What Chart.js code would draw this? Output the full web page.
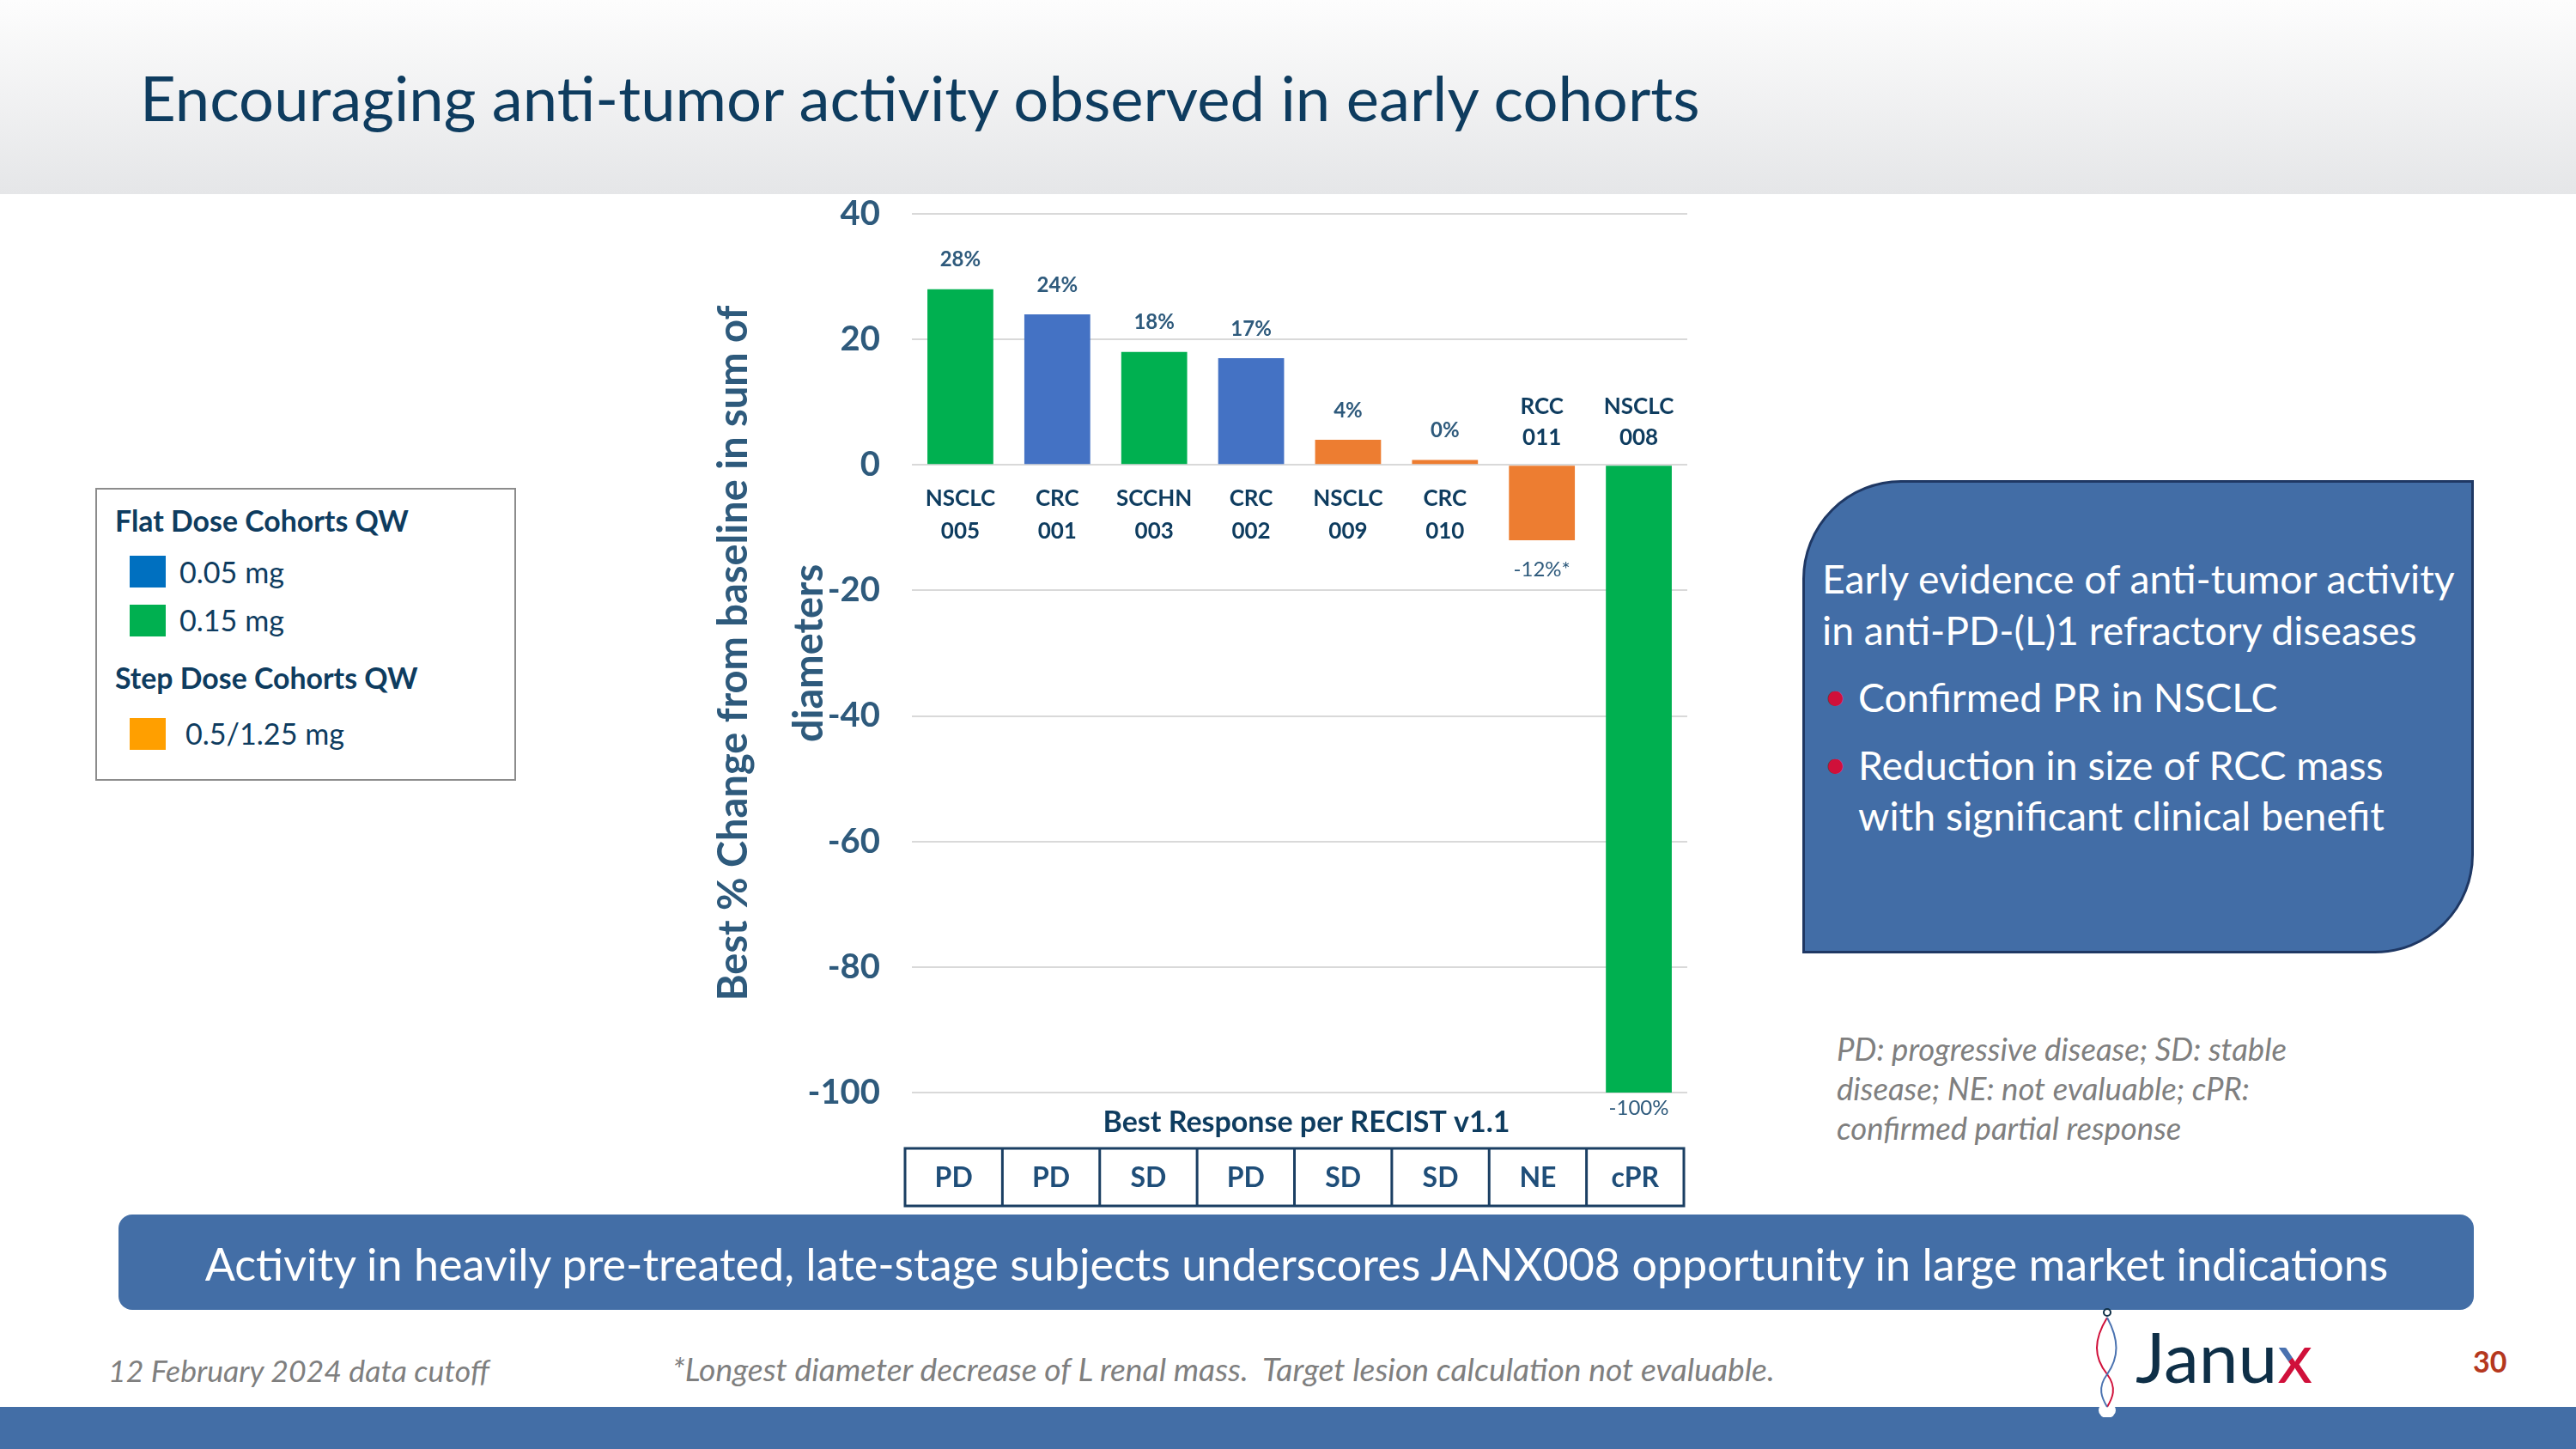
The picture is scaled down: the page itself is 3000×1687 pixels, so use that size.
<!DOCTYPE html>
<html lang="en">
<head>
<meta charset="UTF-8">
<title>Encouraging anti-tumor activity observed in early cohorts</title>
<script src="https://cdn.jsdelivr.net/npm/chart.js"></script>
<style>
    body {
        margin: 0;
        width: 3000px;
        height: 1687px;
        position: relative;
        overflow: hidden;
        background: #fff;
        font-family: Lato, "Open Sans", sans-serif;
        color: #0E3C5F;
    }
    .abs { position: absolute; white-space: nowrap; line-height: 1; transform: translateY(-50%); }
    header {
        position: absolute; left: 0; top: 0; width: 3000px; height: 226px;
        background: linear-gradient(#fdfdfd, #e5e6e8);
    }
    #chartWrap { position: absolute; left: 811px; top: 188px; width: 1179px; height: 1220px; }
    .legend {
        position: absolute; left: 111px; top: 568px; width: 490px; height: 341px;
        border: 2px solid #8c8c8c; box-sizing: border-box;
    }
    .swatch { position: absolute; width: 42px; height: 37px; }
    .lhead { font-weight: 700; font-size: 32px; }
    .litem { font-size: 34px; }
    .callout {
        position: absolute; left: 2099px; top: 559px; width: 782px; height: 551px;
        background: #426DA6; border: 3px solid #1F3864; box-sizing: border-box;
        border-radius: 115px 0 115px 0;
    }
    .box { color: #fff; font-size: 42px; }
    .dot { color: #D0103A; font-size: 42px; }
    .note { color: #7f7f7f; font-style: italic; font-size: 31px; }
    .banner {
        position: absolute; left: 138px; top: 1414px; width: 2743px; height: 111px;
        background: #436EA6; border-radius: 16px;
    }
    .foot { color: #7f7f7f; font-style: italic; font-size: 32px; }
    .band { position: absolute; left: 0; top: 1638px; width: 3000px; height: 49px; background: #436EA6; }
</style>
</head>
<body>
<header></header>
<div class="abs title" id="title" style="left:163px; top:113px; font-size:67px;">Encouraging anti-tumor activity observed in early cohorts</div>

<div class="legend"></div>
<div class="abs lhead" id="lh1" style="left:134px; top:607px;">Flat Dose Cohorts QW</div>
<div class="swatch" id="sw0" style="left:151px; top:647px;"></div>
<div class="abs litem" id="li0" style="left:209px; top:666px;"></div>
<div class="swatch" id="sw1" style="left:151px; top:704px;"></div>
<div class="abs litem" id="li1" style="left:209px; top:722px;"></div>
<div class="abs lhead" style="left:134px; top:790px;">Step Dose Cohorts QW</div>
<div class="swatch" id="sw2" style="left:151px; top:836px;"></div>
<div class="abs litem" id="li2" style="left:216px; top:854px;"></div>

<div id="chartWrap"><canvas id="chart" width="1179" height="1220"></canvas></div>

<div class="callout"></div>
<div class="abs box" id="box1" style="left:2122px; top:673px;">Early evidence of anti-tumor activity</div>
<div class="abs box" style="left:2122px; top:733px;">in anti-PD-(L)1 refractory diseases</div>
<div class="abs dot" style="left:2124px; top:809px;">•</div>
<div class="abs box" style="left:2164px; top:811px;">Confirmed PR in NSCLC</div>
<div class="abs dot" style="left:2124px; top:888px;">•</div>
<div class="abs box" style="left:2164px; top:890px;">Reduction in size of RCC mass</div>
<div class="abs box" style="left:2164px; top:949px;">with significant clinical benefit</div>

<div class="abs note" id="note1" style="left:2139px; top:1221px;">PD: progressive disease; SD: stable</div>
<div class="abs note" style="left:2139px; top:1267px;">disease; NE: not evaluable; cPR:</div>
<div class="abs note" style="left:2139px; top:1313px;">confirmed partial response</div>

<div class="banner"></div>
<div class="abs" id="bannerText" style="left:1510px; top:1471px; transform:translate(-50%,-50%); color:#fff; font-size:47px;">Activity in heavily pre-treated, late-stage subjects underscores JANX008 opportunity in large market indications</div>

<div class="abs foot" id="foot1" style="left:126px; top:1596px;">12 February 2024 data cutoff</div>
<div class="abs foot" id="foot2" style="left:783px; top:1594px;">*Longest diameter decrease of L renal mass.&nbsp; Target lesion calculation not evaluable.</div>

<div class="band"></div>
<svg style="position:absolute; left:2430px; top:1520px;" width="60" height="130" viewBox="0 0 60 130">
    <ellipse cx="24" cy="122" rx="10" ry="9" fill="#fff"/>
    <circle cx="24" cy="8" r="4" fill="none" stroke="#0E2F47" stroke-width="2"/>
    <path d="M24 14 C 8 40, 8 60, 24 80 C 36 96, 30 108, 24 118" fill="none" stroke="#D0103A" stroke-width="2"/>
    <path d="M24 14 C 38 40, 38 60, 24 80 C 12 96, 18 108, 24 118" fill="none" stroke="#4A72B0" stroke-width="2"/>
</svg>
<div class="abs" style="left:2487px; top:1578px; font-size:82px; color:#0E2F47;">Janu<span style="background:linear-gradient(135deg,#4A72B0 50%,#D0103A 50%); -webkit-background-clip:text; background-clip:text; color:transparent;">x</span></div>
<div class="abs" style="left:2880px; top:1585px; font-size:34px; font-weight:700; color:#B5381E;">30</div>

<script>
// chart data
const categories = [['NSCLC', '005'], ['CRC', '001'], ['SCCHN', '003'], ['CRC', '002'], ['NSCLC', '009'], ['CRC', '010'], ['RCC', '011'], ['NSCLC', '008']];
const changes = [28, 24, 18, 17, 4, 0.8, -12, -100];
const valueLabels = ['28%', '24%', '18%', '17%', '4%', '0%', '-12%*', '-100%'];
const cohorts = ['0.15', '0.05', '0.15', '0.05', 'step', 'step', 'step', '0.15'];
const responses = ['PD', 'PD', 'SD', 'PD', 'SD', 'SD', 'NE', 'cPR'];
const yTicks = [40, 20, 0, -20, -40, -60, -80, -100];
const legendLabels = ['0.05 mg', '0.15 mg', '0.5/1.25 mg'];
const legendColors = ['#0070C0', '#00B050', '#FF9F00'];

const barColor = { '0.05': '#4472C4', '0.15': '#00B050', 'step': '#ED7D31' };
const navy = '#0E3C5F';
const slate = '#2E5A7C';

legendLabels.forEach((t, i) => {
    document.getElementById('li' + i).textContent = t;
    document.getElementById('sw' + i).style.background = legendColors[i];
});

// scale a group of texts so that one reference line gets the target width
function fitGroup(sel, refId, target) {
    const ref = document.getElementById(refId);
    const w = ref.getBoundingClientRect().width;
    const size = parseFloat(getComputedStyle(ref).fontSize) * target / w;
    document.querySelectorAll(sel).forEach(e => e.style.fontSize = size + 'px');
}
fitGroup('#title', 'title', 1817);
fitGroup('.box, .dot', 'box1', 737);
fitGroup('#bannerText', 'bannerText', 2543);
fitGroup('.lhead', 'lh1', 342);
fitGroup('.litem', 'li0', 122);
fitGroup('.note', 'note1', 524);
fitGroup('#foot1', 'foot1', 444);
fitGroup('#foot2', 'foot2', 1284);

const annotate = {
    id: 'annotate',
    afterDatasetsDraw(chart) {
        const ctx = chart.ctx;
        const ca = chart.chartArea;
        const y = chart.scales.y;
        const zero = y.getPixelForValue(0);
        const bars = chart.getDatasetMeta(0).data;
        ctx.save();
        ctx.textAlign = 'center';
        ctx.textBaseline = 'middle';
        bars.forEach((bar, i) => {
            // value labels
            ctx.fillStyle = slate;
            if (changes[i] >= 0) {
                ctx.font = 'bold 24px Lato';
                ctx.fillText(valueLabels[i], bar.x, bar.y - 34);
            } else {
                ctx.font = '24px Lato';
                ctx.fillText(valueLabels[i], bar.x, Math.min(bar.y + 34, ca.bottom + 18));
            }
            // category labels at the zero line
            ctx.fillStyle = navy;
            ctx.font = 'bold 26px Lato';
            if (changes[i] >= 0) {
                ctx.fillText(categories[i][0], bar.x, zero + 39);
                ctx.fillText(categories[i][1], bar.x, zero + 77);
            } else {
                ctx.fillText(categories[i][0], bar.x, zero - 68);
                ctx.fillText(categories[i][1], bar.x, zero - 32);
            }
        });
        // response table
        ctx.font = 'bold 34px Lato';
        ctx.fillStyle = navy;
        ctx.fillText('Best Response per RECIST v1.1', (ca.left + ca.right) / 2 + 8, ca.bottom + 35);
        const tl = ca.left - 8, tr = ca.right - 4, tt = ca.bottom + 65, th = 67;
        const cw = (tr - tl) / responses.length;
        ctx.strokeStyle = '#1B3F63';
        ctx.lineWidth = 3;
        ctx.strokeRect(tl, tt, tr - tl, th);
        ctx.font = 'bold 32px Lato';
        ctx.fillStyle = '#1F4E79';
        responses.forEach((r, i) => {
            if (i > 0) {
                ctx.beginPath();
                ctx.moveTo(tl + i * cw, tt);
                ctx.lineTo(tl + i * cw, tt + th);
                ctx.stroke();
            }
            ctx.fillText(r, tl + (i + 0.5) * cw, tt + th / 2 + 1);
        });
        ctx.restore();
    }
};

new Chart(document.getElementById('chart'), {
    type: 'bar',
    data: {
        labels: categories.map(c => c.join(' ')),
        datasets: [{
            data: changes,
            backgroundColor: cohorts.map(c => barColor[c]),
            categoryPercentage: 1,
            barPercentage: 0.68
        }]
    },
    options: {
        responsive: false,
        devicePixelRatio: 1,
        animation: false,
        layout: { padding: { top: 49, bottom: 136, right: 25, left: 0 } },
        plugins: { legend: { display: false }, tooltip: { enabled: false } },
        scales: {
            x: { display: false },
            y: {
                min: -100,
                max: 40,
                afterBuildTicks: s => { s.ticks = yTicks.map(v => ({ value: v })); },
                afterFit: s => { s.width = 251; },
                ticks: {
                    padding: 37,
                    color: slate,
                    font: { family: 'Lato', weight: 'bold', size: 40 }
                },
                grid: { color: '#D9D9D9', lineWidth: 2, drawTicks: false },
                border: { display: false },
                title: {
                    display: true,
                    text: ['Best % Change from baseline in sum of', 'diameters'],
                    color: slate,
                    padding: 0,
                    font: { family: 'Lato', weight: 'bold', size: 47, lineHeight: 1.87 }
                }
            }
        }
    },
    plugins: [annotate]
});
</script>
</body>
</html>
